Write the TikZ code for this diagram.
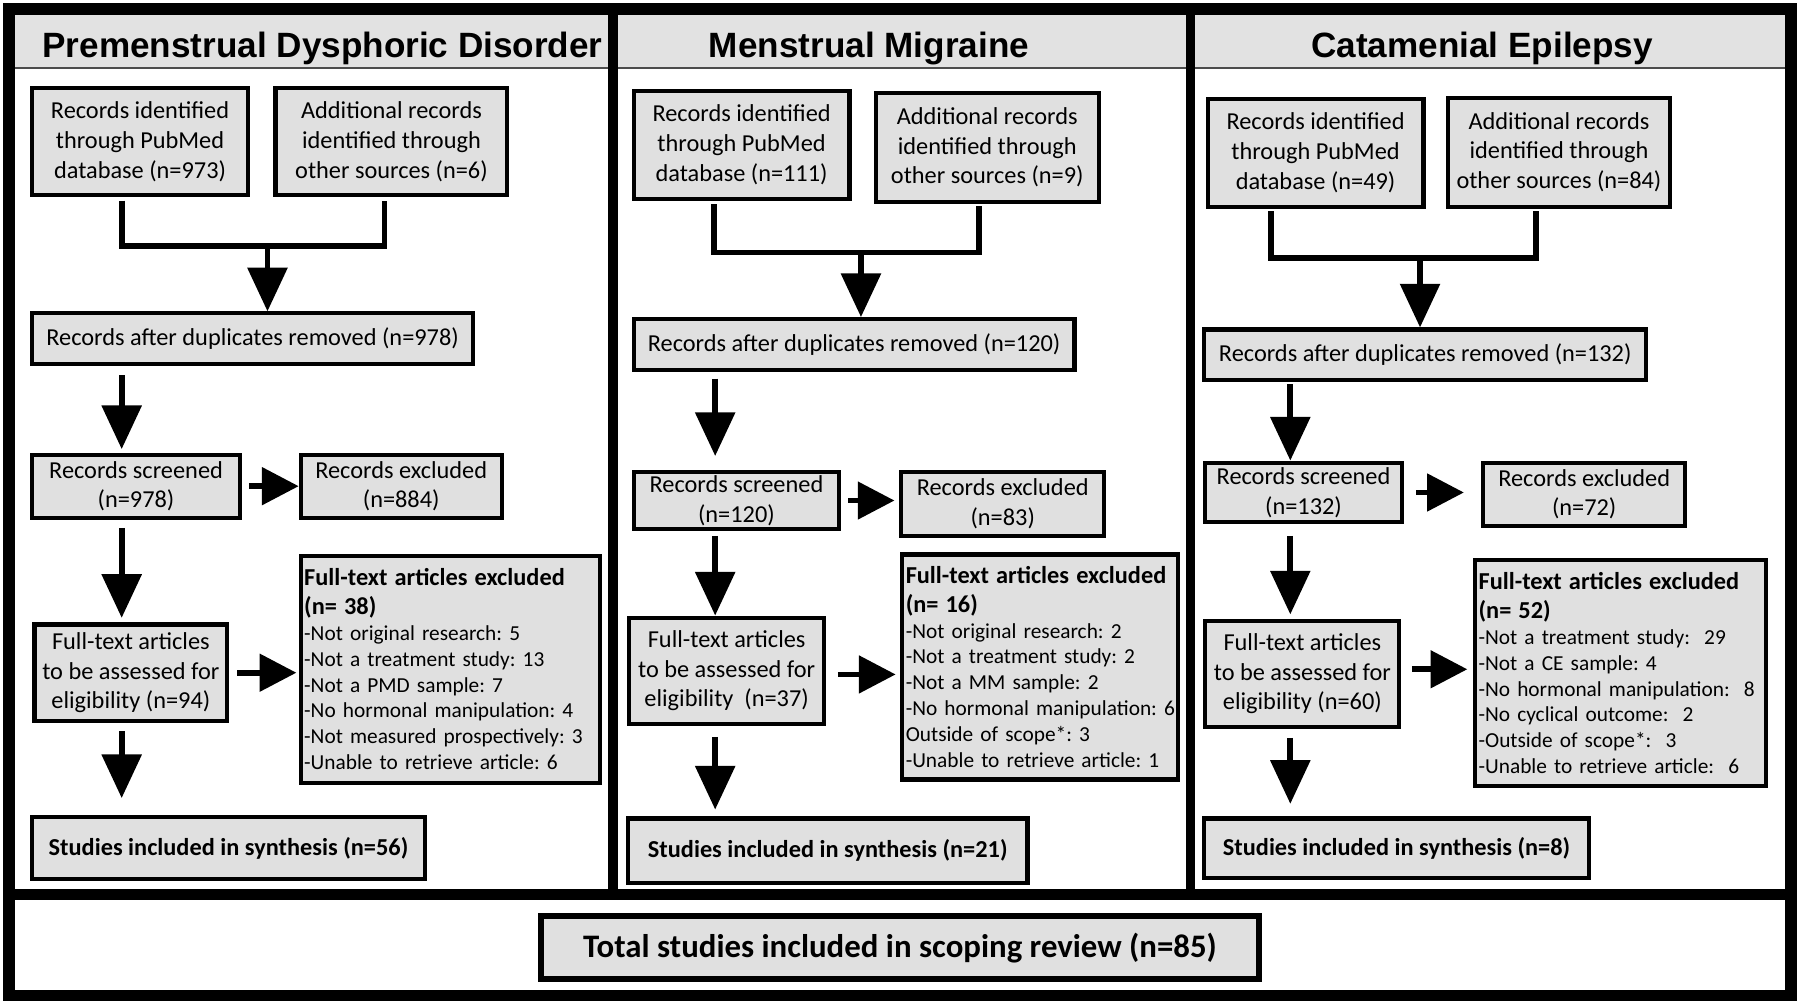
\documentclass[tikz,border=0pt]{standalone}
\usepackage{fontspec}
\setmainfont{Carlito}
\newfontfamily\hdfont{Liberation Sans}
\usetikzlibrary{arrows.meta}
\definecolor{boxgray}{RGB}{224,224,224}
\definecolor{hdgray}{RGB}{226,226,226}
\newcommand\mkbox[7]{\node[#1, minimum width={(#5-#3)*0.5pt}, minimum height={(#6-#4)*0.5pt}] (#2) at ({(#3+#5)/2},{(#4+#6)/2}) {#7};}
\newcommand\exhead[2]{\raggedright\parindent=0pt\frenchspacing {\fontsize{10.6}{12.5}\selectfont\bfseries \mbox{#1}\par \mbox{#2}\par}\fontsize{9.3}{11.25}\selectfont}
\newcommand\li[1]{\mbox{#1}\par}
\begin{document}
\frenchspacing
\begin{tikzpicture}[x=0.5pt,y=-0.5pt,
  box/.style={draw=black, line width=1.8pt, fill=boxgray, inner sep=0pt, align=center, font=\fontsize{10.6}{12.9}\selectfont},
  exbox/.style={draw=black, line width=1.8pt, fill=boxgray, inner ysep=0pt, inner xsep=1.5pt, font=\fontsize{9.3}{11.25}\selectfont},
  boldbox/.style={box, font=\fontsize{10.6}{12.9}\selectfont\bfseries},
  totbox/.style={box, line width=2.5pt, font=\fontsize{14.3}{16}\selectfont\bfseries},
  hdtitle/.style={anchor=base, inner sep=0pt, font=\hdfont\bfseries\fontsize{15.3}{18}\selectfont},
  conn/.style={line width=2.5pt, line join=miter},
  varr/.style={conn, -{Triangle[length=19pt,width=17pt]}},
  harr/.style={conn, -{Triangle[length=16pt,width=16pt]}},
  frame/.style={line width=5pt},
  divider/.style={line width=4pt}
]
\useasboundingbox (0,0) rectangle (1568,875);
\fill[white] (0,0) rectangle (1568,875);
% header band
\fill[hdgray] (13,13) rectangle (1555,59);
\draw[line width=0.8pt, black!70] (13,59) -- (1555,59);
% dividers and frame
\draw[divider] (534,13) -- (534,779);
\draw[divider] (1037,13) -- (1037,779);
\draw[line width=5pt] (13,779) -- (1555,779);
\draw[frame] (8,8) rectangle (1560,867);
% titles
\node[hdtitle] (t1) at (281,50) {Premenstrual Dysphoric Disorder};
\node[hdtitle] (t2) at (757,50) {Menstrual Migraine};
\node[hdtitle] (t3) at (1291,50) {Catamenial Epilepsy};

% ---------- Panel 1 ----------
\mkbox{box}{A1}{28}{77}{216}{170}{Records identified\\through PubMed\\database (n=973)}
\mkbox{box}{B1}{240}{77}{442}{170}{Additional records\\identified through\\other sources (n=6)}
\mkbox{box}{C1}{28}{273}{412}{317}{Records after duplicates removed (n=978)}
\mkbox{box}{D1}{28}{396}{209}{451}{Records screened\\(n=978)}
\mkbox{box}{E1}{262}{396}{437}{451}{Records excluded\\(n=884)}
\mkbox{box}{F1}{30}{544}{198}{628}{Full-text articles\\to be assessed for\\eligibility (n=94)}
\mkbox{exbox, text width=127.5pt}{G1}{262}{484}{523}{682}{\exhead{Full-text articles excluded}{(n= 38)}\li{-Not original research: 5}\li{-Not a treatment study: 13}\li{-Not a PMD sample: 7}\li{-No hormonal manipulation: 4}\li{-Not measured prospectively: 3}\li{-Unable to retrieve article: 6}}
\mkbox{boldbox}{H1}{28}{712}{370}{766}{Studies included in synthesis (n=56)}
\coordinate (a1) at (106,0);
\coordinate (b1) at (335,0);
\coordinate (j1) at (233,214);
\coordinate (v1) at (106,0);
\draw[conn, shorten <=1.5pt] (A1.south -| a1) |- (j1) -| ([yshift=-1.5pt]B1.south -| b1);
\draw[varr] (j1) -- (C1.north -| j1);
\draw[varr, shorten <=4pt, shorten >=1.5pt] (C1.south -| v1) -- (D1.north -| v1);
\draw[varr, shorten <=3.5pt, shorten >=2pt] (D1.south -| v1) -- (F1.north -| v1);
\draw[varr, shorten <=3.5pt, shorten >=7.5pt] (F1.south -| v1) -- (H1.north -| v1);
\draw[harr, shorten <=3pt] (D1.east) -- (D1.east -| E1.west);
\draw[harr, shorten <=3.5pt, shorten >=1pt] (F1.east) -- (F1.east -| G1.west);

% ---------- Panel 2 ----------
\mkbox{box}{A2}{552}{79}{740}{173}{Records identified\\through PubMed\\database (n=111)}
\mkbox{box}{B2}{763}{81}{957}{176}{Additional records\\identified through\\other sources (n=9)}
\mkbox{box}{C2}{552}{278}{936}{322}{Records after duplicates removed (n=120)}
\mkbox{box}{D2}{552}{411}{731}{461}{Records screened\\(n=120)}
\mkbox{box}{E2}{785}{411}{962}{467}{Records excluded\\(n=83)}
\mkbox{box}{F2}{548}{538}{718}{631}{Full-text articles\\to be assessed for\\eligibility~ (n=37)}
\mkbox{exbox, text width=117pt}{G2}{786}{483}{1026}{679}{\exhead{Full-text articles excluded}{(n= 16)}\li{-Not original research: 2}\li{-Not a treatment study: 2}\li{-Not a MM sample: 2}\li{-No hormonal manipulation: 6}\li{Outside of scope*: 3}\li{-Unable to retrieve article: 1}}
\mkbox{boldbox}{H2}{547}{713}{895}{769}{Studies included in synthesis (n=21)}
\coordinate (a2) at (622,0);
\coordinate (b2) at (853,0);
\coordinate (j2) at (750,220);
\coordinate (v2) at (623,0);
\draw[conn, shorten <=1.5pt] (A2.south -| a2) |- (j2) -| ([yshift=-1pt]B2.south -| b2);
\draw[varr] (j2) -- (C2.north -| j2);
\draw[varr, shorten <=3pt, shorten >=6pt] (C2.south -| v2) -- (D2.north -| v2);
\draw[varr, shorten <=2pt] (D2.south -| v2) -- (F2.north -| v2);
\draw[varr, shorten <=4.5pt, shorten >=3pt] (F2.south -| v2) -- (H2.north -| v2);
\draw[harr, shorten <=3pt, shorten >=2pt] (D2.east) -- (D2.east -| E2.west);
\draw[harr, shorten <=5pt, shorten >=2pt] ([yshift=-1.5pt]F2.east) -- ([yshift=-1.5pt]F2.east -| G2.west);

% ---------- Panel 3 ----------
\mkbox{box}{A3}{1052}{86}{1240}{180}{Records identified\\through PubMed\\database (n=49)}
\mkbox{box}{B3}{1261}{85}{1455}{180}{Additional records\\identified through\\other sources (n=84)}
\mkbox{box}{C3}{1049}{287}{1434}{331}{Records after duplicates removed (n=132)}
\mkbox{box}{D3}{1050}{403}{1221}{455}{Records screened\\(n=132)}
\mkbox{box}{E3}{1292}{403}{1468}{458}{Records excluded\\(n=72)}
\mkbox{box}{F3}{1050}{541}{1219}{633}{Full-text articles\\to be assessed for\\eligibility (n=60)}
\mkbox{exbox, text width=123.5pt}{G3}{1285}{488}{1538}{685}{\exhead{Full-text articles excluded}{(n= 52)}\li{-Not a treatment study:~ 29}\li{-Not a CE sample: 4}\li{-No hormonal manipulation:~ 8}\li{-No cyclical outcome:~ 2}\li{-Outside of scope*:~ 3}\li{-Unable to retrieve article:~ 6}}
\mkbox{boldbox}{H3}{1049}{713}{1384}{765}{Studies included in synthesis (n=8)}
\coordinate (a3) at (1107,0);
\coordinate (b3) at (1338,0);
\coordinate (j3) at (1237,225);
\coordinate (v3) at (1124,0);
\draw[conn, shorten <=1pt] (A3.south -| a3) |- (j3) -| ([yshift=-1pt]B3.south -| b3);
\draw[varr] (j3) -- (C3.north -| j3);
\draw[varr, shorten <=1pt] (C3.south -| v3) -- (D3.north -| v3);
\draw[varr, shorten <=5pt, shorten >=2pt] (D3.south -| v3) -- (F3.north -| v3);
\draw[varr, shorten <=4pt, shorten >=5.5pt] (F3.south -| v3) -- (H3.north -| v3);
\draw[harr, shorten <=5.5pt, shorten >=7.5pt] (D3.east) -- (D3.east -| E3.west);
\draw[harr, shorten <=4.5pt, shorten >=2.5pt] ([yshift=2pt]F3.east) -- ([yshift=2pt]F3.east -| G3.west);

% ---------- Total ----------
\mkbox{totbox}{T}{471}{798}{1097}{853}{Total studies included in scoping review (n=85)}
\end{tikzpicture}
\end{document}
